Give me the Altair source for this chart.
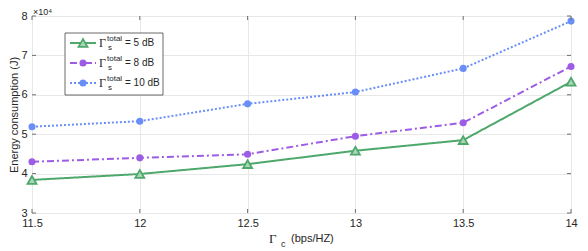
import altair as alt
import pandas as pd

x_vals = [11.5, 12, 12.5, 13, 13.5, 14]
e_5db = [3.84, 3.99, 4.24, 4.58, 4.85, 6.33]
e_8db = [4.30, 4.40, 4.49, 4.95, 5.29, 6.72]
e_10db = [5.19, 5.33, 5.77, 6.07, 6.67, 7.87]
series_names = ["5 dB", "8 dB", "10 dB"]
x_ticks = [11.5, 12, 12.5, 13, 13.5, 14]
y_ticks = [3, 4, 5, 6, 7, 8]

colors = ["#4ea86b", "#9d5ce6", "#6a8ef7"]
dashes = [[1, 0], [7, 3, 2, 3], [2, 2]]
W, H = 539, 197

rows = []
for name, vals in zip(series_names, [e_5db, e_8db, e_10db]):
    for x, v in zip(x_vals, vals):
        rows.append({"x": x, "y": v, "series": name})
df = pd.DataFrame(rows)

xs = alt.Scale(domain=[11.5, 14], nice=False)
ys = alt.Scale(domain=[3, 8], nice=False)

X_AX = alt.Axis(values=x_ticks, title=None, grid=True, labelFlush=False, labelOverlap=False, format="~g")
Y_AX = alt.Axis(values=y_ticks, title="Energy consumption (J)", grid=True, labelFlush=False,
                labelOverlap=False, format="~g")


def X(f):
    return alt.X(f, scale=xs, axis=X_AX)


def Y(f):
    return alt.Y(f, scale=ys, axis=Y_AX)


base = alt.Chart(df)
lines = base.mark_line(strokeWidth=2).encode(
    x=X("x:Q"), y=Y("y:Q"),
    color=alt.Color("series:N", scale=alt.Scale(domain=series_names, range=colors), legend=None),
    strokeDash=alt.StrokeDash("series:N", scale=alt.Scale(domain=series_names, range=dashes), legend=None),
)

tri = alt.Chart(df[df.series == "5 dB"]).mark_point(
    shape="triangle-up", size=80, filled=True, fill="#a9d6b7", stroke=colors[0], strokeWidth=1.8, opacity=1
).encode(x=X("x:Q"), y=Y("y:Q"))
circ = alt.Chart(df[df.series != "5 dB"]).mark_circle(size=50, opacity=1).encode(
    x=X("x:Q"), y=Y("y:Q"),
    color=alt.Color("series:N", scale=alt.Scale(domain=series_names, range=colors), legend=None),
)

tick_col = "#6e6e6e"
xt = pd.DataFrame({"x": x_ticks})
yt = pd.DataFrame({"y": y_ticks})
xtb = alt.Chart(xt).mark_rule(color=tick_col).encode(x=X("x:Q"), y=alt.value(H), y2=alt.value(H - 4))
xtt = alt.Chart(xt).mark_rule(color=tick_col).encode(x=X("x:Q"), y=alt.value(0), y2=alt.value(4))
ytl = alt.Chart(yt).mark_rule(color=tick_col).encode(y=Y("y:Q"), x=alt.value(0), x2=alt.value(4))
ytr = alt.Chart(yt).mark_rule(color=tick_col).encode(y=Y("y:Q"), x=alt.value(W), x2=alt.value(W - 4))

one = pd.DataFrame({"a": [0]})


def txt(text, x, y, size, font="Liberation Sans", baseline="middle"):
    return alt.Chart(one).mark_text(
        text=text, font=font, fontSize=size, align="left", baseline=baseline, color="#262626"
    ).encode(x=alt.value(x), y=alt.value(y))


# exponent label
exp1 = txt("×10⁴", 1, -1, 9, baseline="alphabetic")

# x-axis title
xt1 = txt("Γ", 237, 223, 13, "Liberation Serif")
xt2 = txt("c", 249, 228, 9)
xt3 = txt("(bps/HZ)", 259, 223, 11)

# legend
leg = [alt.Chart(one).mark_rect(fill="white", stroke="#444444", strokeWidth=0.8).encode(
    x=alt.value(33), x2=alt.value(131), y=alt.value(17), y2=alt.value(79))]
for i, name in enumerate(series_names):
    yy = 27 + 20 * i
    leg.append(alt.Chart(one).mark_rule(color=colors[i], strokeWidth=2, strokeDash=dashes[i]).encode(
        x=alt.value(38), x2=alt.value(64), y=alt.value(yy)))
    if i == 0:
        leg.append(alt.Chart(one).mark_point(shape="triangle-up", size=80, filled=True, fill="#a9d6b7",
                                             stroke=colors[0], strokeWidth=1.8, opacity=1).encode(
            x=alt.value(51), y=alt.value(yy)))
    else:
        leg.append(alt.Chart(one).mark_circle(size=50, color=colors[i], opacity=1).encode(
            x=alt.value(51), y=alt.value(yy)))
    leg.append(txt("Γ", 67, yy, 12, "Liberation Serif"))
    leg.append(txt("s", 76, yy + 5, 8))
    leg.append(txt("total", 75, yy - 4, 8))
    leg.append(txt("= " + name, 93, yy, 10))

chart = alt.layer(lines, tri, circ, xtb, xtt, ytl, ytr, exp1, xt1, xt2, xt3, *leg).properties(
    width=W, height=H,
    autosize=alt.AutoSizeParams(type="none"),
    padding={"left": 24, "top": 8, "right": 8, "bottom": 38},
).configure_view(stroke=tick_col, strokeWidth=1).configure_axis(
    domain=False, ticks=False, gridColor="#e8e8e8", gridWidth=1,
    labelFont="Liberation Sans", labelFontSize=11, labelColor="#262626",
    titleFont="Liberation Sans", titleFontSize=11, titleFontWeight="normal", titleColor="#262626",
).configure_axisY(labelPadding=5, titlePadding=1).configure_axisX(labelPadding=4)

chart.save("out.html", embed_options={"renderer": "svg", "actions": False})
